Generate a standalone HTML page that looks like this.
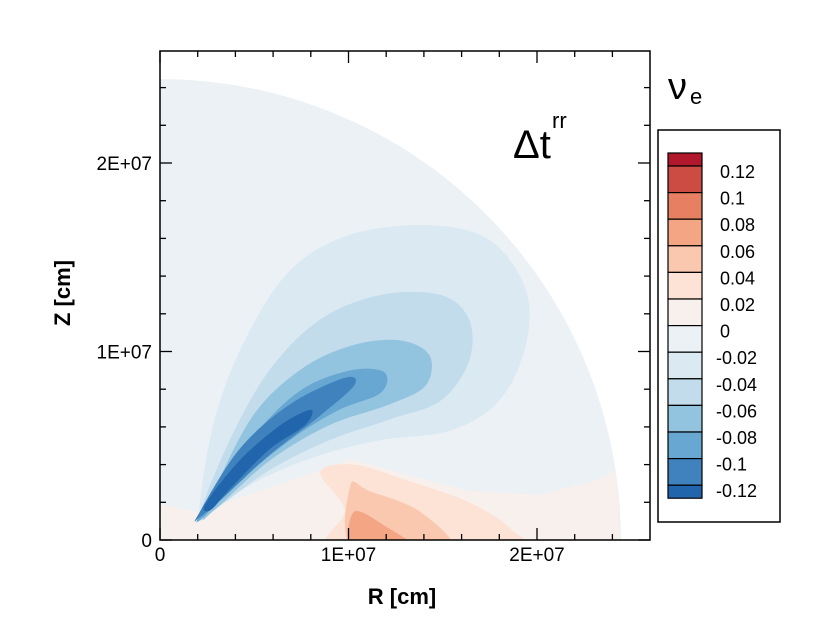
<!DOCTYPE html>
<html><head><meta charset="utf-8"><style>
body{margin:0;background:#fff;width:830px;height:632px;overflow:hidden}
svg text{font-family:"Liberation Sans",sans-serif}
</style></head><body>
<svg id="chart" width="830" height="632" viewBox="0 0 830 632" xmlns="http://www.w3.org/2000/svg">
<g id="plot"></g>
<g id="axes"></g>
<g id="cbar"></g>
<text x="513" y="158" font-size="40">Δt</text>
<text x="552" y="128" font-size="22">rr</text>
<text x="668" y="99" font-size="38" font-family="Liberation Serif">ν</text>
<text x="690" y="104" font-size="22">e</text>
<text x="402" y="604" font-size="22" font-weight="bold" text-anchor="middle">R [cm]</text>
<text transform="translate(70,293) rotate(-90)" font-size="22" font-weight="bold" text-anchor="middle">Z [cm]</text>
</svg>
<script>
// data in units of 1E6 cm
const levels=[0.12,0.1,0.08,0.06,0.04,0.02,0,-0.02,-0.04,-0.06,-0.08,-0.1,-0.12];
const levelColors=["#b2182b","#cc4c44","#e78062","#f3a584","#f9c8ae","#fce3d6","#f8f0ec","#ebf1f5","#dbe9f2","#c2dcec","#93c4df","#67a7d1","#3f82bd","#2166ac"];
const domainRadius=24.45;
const xTicks=[0,10,20];
const xTickLabels=["0","1E+07","2E+07"];
const yTicks=[0,10,20];
const yTickLabels=["0","1E+07","2E+07"];
const regionColorIdx=[6,5,4,3,8,9,10,11,12,13];
const regionNames=["pos-0-002","pos-002-004","pos-004-006","pos-006-008","neg-002-004","neg-004-006","neg-006-008","neg-008-010","neg-010-012","neg-below-012"];
const regionSmooth=[false,true,true,true,true,true,true,true,true,true];
const regionPolys=[
[[0,0],[0,1.9],[2,1.5],[8,3.5],[10.1,4.3],[13.3,3.4],[16.4,2.6],[20.2,2.4],[23.3,3.2],[24.2,3.7],[24.4,0]],
[[8.5,3.6],[10.3,4.0],[13,3.2],[16.4,2.0],[18.6,0.6],[18.8,-0.5],[9.3,-0.5],[9.8,1.6]],
[[10.1,2.9],[11.1,2.6],[13.8,1.5],[15.4,-0.5],[10.3,-0.5]],
[[10.3,1.5],[12,0.7],[13.5,-0.5],[10.3,-0.5]],
[[2.1,1.6],[2.9,6.4],[4.5,10.6],[6.9,14.3],[10.1,16.2],[14.3,16.7],[17.5,15.9],[19.4,13.3],[19.4,10.3],[18.0,7.4],[15.4,5.8],[11.7,5.3],[8.5,4.5],[5.3,3.2],[2.7,1.6]],
[[2.1,1.3],[3.7,5.3],[5.8,9.0],[8.5,11.7],[11.7,13.0],[14.9,13.0],[16.4,11.7],[16.4,9.5],[14.9,7.4],[12.2,6.4],[9.0,5.3],[5.8,3.7],[2.9,1.6]],
[[2.4,1.5],[4.8,6.4],[7.4,9.0],[10.1,10.3],[12.7,10.6],[14.3,9.8],[14.1,8.2],[12.2,7.2],[9.0,6.1],[5.8,4.2],[2.9,1.6]],
[[2.1,1.3],[4.8,5.3],[7.4,7.9],[10.1,9.0],[11.9,8.9],[11.7,7.8],[9.5,6.9],[6.9,5.3],[3.7,2.7],[2.4,1.3]],
[[2.0,1.3],[4.2,4.8],[6.9,7.2],[9.8,8.6],[10.3,8.2],[8.5,6.6],[5.8,4.5],[3.2,2.1],[2.1,1.2]],
[[2.4,1.9],[4.2,4.2],[6.4,6.1],[8.0,6.9],[7.7,6.1],[5.8,4.8],[3.7,2.7],[2.7,1.6]]
];
const NS="http://www.w3.org/2000/svg";
const X0=160,Y0=540,S=18.85,XMAX=650,YMIN=51;
const sx=v=>X0+v*S, sy=v=>Y0-v*S;
function mk(tag,attrs,parent){const e=document.createElementNS(NS,tag);for(const k in attrs)e.setAttribute(k,attrs[k]);parent.appendChild(e);return e;}
function smoothPath(pts){
  const n=pts.length;let d=`M${pts[0][0]},${pts[0][1]}`;
  for(let i=0;i<n;i++){
    const p0=pts[(i-1+n)%n],p1=pts[i],p2=pts[(i+1)%n],p3=pts[(i+2)%n];
    const c1=[p1[0]+(p2[0]-p0[0])/6,p1[1]+(p2[1]-p0[1])/6];
    const c2=[p2[0]-(p3[0]-p1[0])/6,p2[1]-(p3[1]-p1[1])/6];
    d+=` C${c1[0]},${c1[1]} ${c2[0]},${c2[1]} ${p2[0]},${p2[1]}`;
  }
  return d+'Z';
}
const plot=document.getElementById('plot'),axes=document.getElementById('axes'),cbar=document.getElementById('cbar');
const r=domainRadius*S;
const disk=mk('path',{d:`M${sx(0)},${sy(0)} L${sx(0)},${sy(domainRadius)} A${r},${r} 0 0 1 ${sx(domainRadius)},${sy(0)} Z`,fill:levelColors[7]},plot);


const cp=mk('clipPath',{id:'dclip'},plot);
mk('path',{d:disk.getAttribute('d')},cp);
const rg=mk('g',{'clip-path':'url(#dclip)'},plot);
regionPolys.forEach((poly,i)=>{
  const pts=poly.map(q=>[sx(q[0]),sy(q[1])]);
  const d=regionSmooth[i]?smoothPath(pts):'M'+pts.map(p=>p.join(',')).join(' L')+'Z';
  const p=mk('path',{d:d,fill:levelColors[regionColorIdx[i]]},rg);
  
  
});
const fr=mk('rect',{x:X0,y:YMIN,width:XMAX-X0,height:Y0-YMIN,fill:'none',stroke:'#000','stroke-width':1.5},axes);


for(let v=0;sx(v)<XMAX-1;v+=2){
  const L=(v%10===0)?12:6;
  mk('line',{x1:sx(v),x2:sx(v),y1:Y0,y2:Y0-L,stroke:'#000','stroke-width':1.3},axes);
  mk('line',{x1:sx(v),x2:sx(v),y1:YMIN,y2:YMIN+L,stroke:'#000','stroke-width':1.3},axes);
}
for(let v=0;sy(v)>YMIN+1;v+=2){
  const L=(v%10===0)?12:6;
  mk('line',{x1:X0,x2:X0+L,y1:sy(v),y2:sy(v),stroke:'#000','stroke-width':1.3},axes);
  mk('line',{x1:XMAX,x2:XMAX-L,y1:sy(v),y2:sy(v),stroke:'#000','stroke-width':1.3},axes);
}
xTicks.forEach((v,i)=>{
  const t=mk('text',{x:sx(v),y:Y0+21,'font-size':19,'text-anchor':'middle'},axes);t.textContent=xTickLabels[i];
  
  
});
yTicks.forEach((v,i)=>{
  const t=mk('text',{x:X0-8,y:sy(v)+7,'font-size':19,'text-anchor':'end'},axes);t.textContent=yTickLabels[i];
  
  
});
const bx=mk('rect',{x:658,y:130,width:122,height:392,fill:'#fff',stroke:'#000','stroke-width':1.5},cbar);


const cbTop=166,cbStep=26.6,half=13;
levelColors.forEach((c,i)=>{
  let y0,h;
  if(i===0){y0=cbTop-half;h=half;}
  else if(i===levelColors.length-1){y0=cbTop+(i-1)*cbStep;h=half;}
  else{y0=cbTop+(i-1)*cbStep;h=cbStep;}
  const s=mk('rect',{x:668,y:y0,width:34,height:h,fill:c,stroke:'#000','stroke-width':1.2},cbar);
  
  
});
levels.forEach((v,i)=>{
  const t=mk('text',{x:v<0?716:720,y:cbTop+i*cbStep+12,'font-size':18},cbar);t.textContent=String(v);
  
  
});
</script>
</body></html>
